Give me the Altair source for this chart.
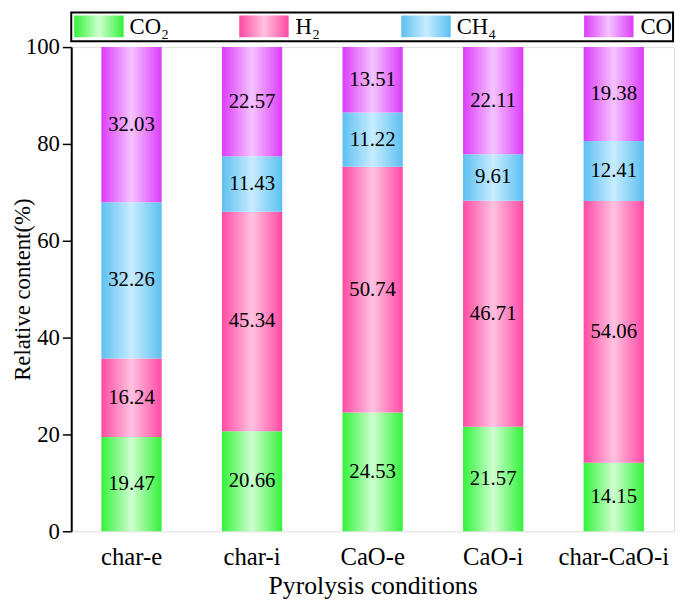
import altair as alt
import pandas as pd

categories = ["char-e", "char-i", "CaO-e", "CaO-i", "char-CaO-i"]
series_names = ["CO\u2082", "H\u2082", "CH\u2084", "CO"]
co2 = [19.47, 20.66, 24.53, 21.57, 14.15]
h2 = [16.24, 45.34, 50.74, 46.71, 54.06]
ch4 = [32.26, 11.43, 11.22, 9.61, 12.41]
co = [32.03, 22.57, 13.51, 22.11, 19.38]
y_ticks = [0, 20, 40, 60, 80, 100]

edge_colors = ["#33f23a", "#ff4aa4", "#5cc0f0", "#dc3cfa"]
center_colors = ["#cfffd0", "#ffc2e0", "#c8ecff", "#f4c4ff"]

series_values = [co2, h2, ch4, co]
rows = []
for ci, cat in enumerate(categories):
    lo = 0.0
    for si, name in enumerate(series_names):
        v = series_values[si][ci]
        rows.append({"cat": cat, "series": name, "value": v, "lo": lo, "hi": lo + v,
                     "mid": lo + v / 2, "label": f"{v:.2f}"})
        lo += v
df = pd.DataFrame(rows)

FONT = "Liberation Serif"


def grad(i):
    return alt.LinearGradient(
        gradient="linear", x1=0, x2=1, y1=0, y2=0,
        stops=[alt.GradientStop(color=edge_colors[i], offset=0),
               alt.GradientStop(color=center_colors[i], offset=0.5),
               alt.GradientStop(color=edge_colors[i], offset=1)])


xenc = alt.X("cat:N", sort=categories,
             scale=alt.Scale(paddingInner=0.5, paddingOuter=0.25),
             axis=alt.Axis(title="Pyrolysis conditions", labelAngle=0, ticks=False,
                           domain=False, labelFont=FONT, labelFontSize=25,
                           labelColor="black", labelPadding=14, titleFont=FONT,
                           titleFontSize=26, titleFontWeight="normal",
                           titleColor="black", titlePadding=3))
yenc = alt.Y("lo:Q", scale=alt.Scale(domain=[0, 100], nice=False),
             axis=alt.Axis(title="Relative content(%)", values=y_ticks, grid=False,
                           tickSize=9, tickColor="black", tickWidth=1.5,
                           domainColor="black", domainWidth=2, labelFont=FONT,
                           labelFontSize=23, labelColor="black", labelPadding=3,
                           titleFont=FONT, titleFontSize=23, titleFontWeight="normal",
                           titleColor="black", titleX=-49, titleY=245, titleAngle=-90,
                           titleAlign="center", titleBaseline="middle"))

base = alt.Chart(df)
layers = []
for i, name in enumerate(series_names):
    layers.append(
        base.transform_filter(alt.datum.series == name)
        .mark_bar(color=grad(i))
        .encode(x=xenc, y=yenc, y2="hi:Q")
    )

labels = base.mark_text(font=FONT, fontSize=21, color="black").encode(
    x=alt.X("cat:N", sort=categories), y=alt.Y("mid:Q"), text="label:N")

# custom legend (box, gradient swatches, texts) drawn above the plot area
one = pd.DataFrame({"k": [0]})
legend_box = alt.Chart(one).mark_rect(fill="white", stroke="black", strokeWidth=2).encode(
    x=alt.value(0), x2=alt.value(609), y=alt.value(-35), y2=alt.value(-6))
legend_layers = [legend_box]
sym_x = [3, 170, 334, 519]
txt_x = [59, 227, 390, 576]
for i, name in enumerate(series_names):
    legend_layers.append(
        alt.Chart(one).mark_rect(color=grad(i)).encode(
            x=alt.value(sym_x[i]), x2=alt.value(sym_x[i] + 50),
            y=alt.value(-32), y2=alt.value(-10)))
    legend_layers.append(
        alt.Chart(pd.DataFrame({"t": [name]})).mark_text(
            font=FONT, fontSize=23, color="black", align="left", baseline="middle").encode(
            x=alt.value(txt_x[i]), y=alt.value(-20), text="t:N"))

chart = alt.layer(*layers, labels, *legend_layers).properties(
    width=610, height=490,
    autosize=alt.AutoSizeParams(type="none"),
    padding={"left": 64, "top": 36, "right": 3, "bottom": 68},
).configure_view(stroke="black", strokeWidth=2).configure(background="white")

chart.save("out.html", embed_options={"renderer": "svg", "actions": False})
